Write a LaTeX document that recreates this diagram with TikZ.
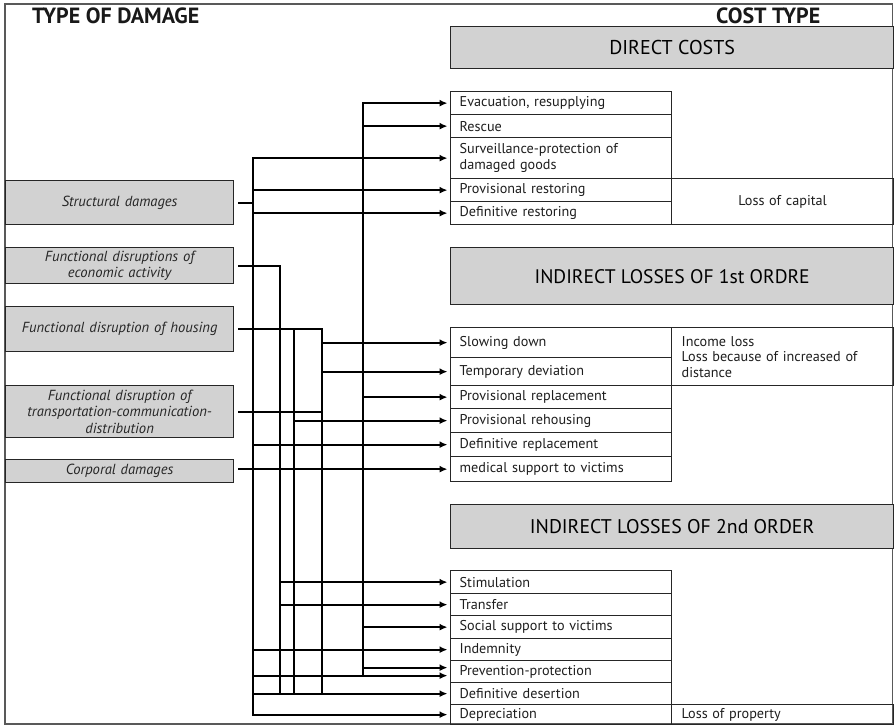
\documentclass[tikz,border=0pt]{standalone}
\usepackage{fontspec}
\setmainfont{PT Sans}
\usetikzlibrary{arrows.meta}
\definecolor{boxgray}{HTML}{D2D2D2}
\definecolor{ink}{HTML}{1E1E1E}
\begin{document}
\begin{tikzpicture}[x=1pt,y=-1pt,
  every node/.style={inner sep=0pt},
  rowtext/.style={font=\fontsize{14.2}{15.5}\selectfont, text=ink},
  lbox/.style={draw=black!85, line width=1.3pt, fill=boxgray, anchor=north west,
    minimum width=228pt, text width=222pt, align=center,
    font=\itshape\fontsize{14.6}{16.5}\selectfont, text=black!85},
  hbox/.style={draw=black!85, line width=1.3pt, fill=boxgray, anchor=north west,
    minimum width=443pt, text=black},
  cell/.style={rowtext, draw=black!85, line width=1.3pt, anchor=north west,
    text width=203pt, inner xsep=9pt, align=left, minimum width=221pt},
  rcell/.style={rowtext, draw=black!85, line width=1.3pt, anchor=north west,
    text width=202pt, inner xsep=10pt, align=left, minimum width=222pt},
  title/.style={anchor=west, font=\bfseries\fontsize{22}{24}\selectfont, text=black!90},
  wire/.style={line width=2.1pt, line cap=rect, line join=miter},
  arr/.style={wire, -{Latex[length=8pt,width=7pt]}, shorten >=2.5pt}]

\useasboundingbox (0,0) rectangle (894,727);
\fill[white] (0,0) rectangle (894,727);
\draw[black!65, line width=1.2pt] (5,4) rectangle (892.5,724);

% column titles
\node[title] (tdamage) at (32,16) {TYPE OF DAMAGE};
\node[title] (tcost) at (716,16) {COST TYPE};

% cost headers
\node[hbox, minimum height=42pt, font=\fontsize{20}{22}\selectfont] (hdir) at (450,26) {DIRECT COSTS};
\node[hbox, minimum height=57pt, font=\fontsize{19.6}{24}\selectfont] (hind1) at (450,247) {INDIRECT LOSSES OF 1st ORDRE};
\node[hbox, minimum height=44pt, font=\fontsize{19.8}{24}\selectfont] (hind2) at (450,504) {INDIRECT LOSSES OF 2nd ORDER};

% damage types
\node[lbox, minimum height=44pt] (sd) at (5,180) {Structural damages};
\node[lbox, minimum height=36pt] (fe) at (5,247) {Functional disruptions of\\economic activity};
\node[lbox, minimum height=45pt] (fh) at (5,306) {Functional disruption of housing};
\node[lbox, minimum height=52pt] (ft) at (5,385) {Functional disruption of\\transportation-communication-\\distribution};
\node[lbox, minimum height=23pt] (cd) at (5,459) {Corporal damages};

% direct costs
\node[cell, minimum height=23pt] (evac) at (450,91) {Evacuation, resupplying};
\node[cell, minimum height=23pt] (resc) at (450,114) {Rescue};
\node[cell, minimum height=41pt] (surv) at (450,137) {Surveillance-protection of\\damaged goods};
\node[cell, minimum height=23pt] (prest) at (450,178) {Provisional restoring};
\node[cell, minimum height=23pt] (drest) at (450,201) {Definitive restoring};
\node[rcell, minimum height=46pt, align=center] (capital) at (671,178) {Loss of capital};

% indirect losses, first order
\node[cell, minimum height=30pt] (slow) at (450,327) {Slowing down};
\node[cell, minimum height=28pt] (tdev) at (450,357) {Temporary deviation};
\node[cell, minimum height=23pt] (prepl) at (450,385) {Provisional replacement};
\node[cell, minimum height=24pt] (preh) at (450,408) {Provisional rehousing};
\node[cell, minimum height=24pt] (drepl) at (450,432) {Definitive replacement};
\node[cell, minimum height=25pt] (med) at (450,456) {medical support to victims};
\node[rcell, minimum height=58pt] (income) at (671,327) {Income loss\\Loss because of increased of\\distance};

% indirect losses, second order
\node[cell, minimum height=23pt] (stim) at (450,570) {Stimulation};
\node[cell, minimum height=22pt] (trans) at (450,593) {Transfer};
\node[cell, minimum height=23pt] (soc) at (450,615) {Social support to victims};
\node[cell, minimum height=22pt] (ind) at (450,638) {Indemnity};
\node[cell, minimum height=22pt] (prev) at (450,660) {Prevention-protection};
\node[cell, minimum height=22pt] (ddes) at (450,682) {Definitive desertion};
\node[cell, minimum height=20pt] (depr) at (450,704) {Depreciation};
\node[rcell, minimum height=20pt] (prop) at (671,704) {Loss of property};

% bus positions
\coordinate (s0) at (239,0);
\coordinate (b1) at (253,0);
\coordinate (b3) at (280,0);
\coordinate (b4) at (294,0);
\coordinate (b5) at (322,0);
\coordinate (b2) at (363,0);
\coordinate (pu) at ([yshift=4pt]prev.west);
\coordinate (pl) at ([yshift=-4pt]prev.west);

% structural damages
\draw[wire] (s0 |- sd.east) -- (b1 |- sd.east);
\draw[arr] (b1 |- depr.west) -- (b1 |- surv.west) -- (surv.west);
\draw[arr] (b1 |- depr.west) -- (depr.west);
\draw[arr] (b1 |- prest.west) -- (prest.west);
\draw[arr] (b1 |- drest.west) -- (drest.west);
\draw[arr] (b1 |- drepl.west) -- (drepl.west);
\draw[arr] (b1 |- ind.west) -- (ind.west);
\draw[arr] (b1 |- pl) -- (pl);
\draw[arr] (b1 |- ddes.west) -- (ddes.west);

% second bus
\draw[arr] (b2 |- pl) -- (b2 |- evac.west) -- (evac.west);
\draw[arr] (b2 |- resc.west) -- (resc.west);
\draw[arr] (b2 |- prepl.west) -- (prepl.west);
\draw[arr] (b2 |- soc.west) -- (soc.west);
\draw[arr] (b2 |- pu) -- (pu);

% economic activity
\draw[wire] (s0 |- fe.east) -- (b3 |- fe.east) -- (b3 |- ddes.west);
\draw[arr] (b3 |- stim.west) -- (stim.west);
\draw[arr] (b3 |- trans.west) -- (trans.west);

% housing
\draw[wire] (s0 |- fh.east) -- (b5 |- fh.east) -- (b5 |- ddes.west);
\draw[wire] (b4 |- fh.east) -- (b4 |- ddes.west);
\draw[arr] (b5 |- slow.west) -- (slow.west);
\draw[arr] (b5 |- tdev.west) -- (tdev.west);
\draw[arr] (b4 |- preh.west) -- (preh.west);

% transportation-communication-distribution
\draw[wire] (s0 |- ft.east) -- (b5 |- ft.east);

% corporal damages
\draw[arr] (s0 |- med.west) -- (med.west);
\end{tikzpicture}
\end{document}
